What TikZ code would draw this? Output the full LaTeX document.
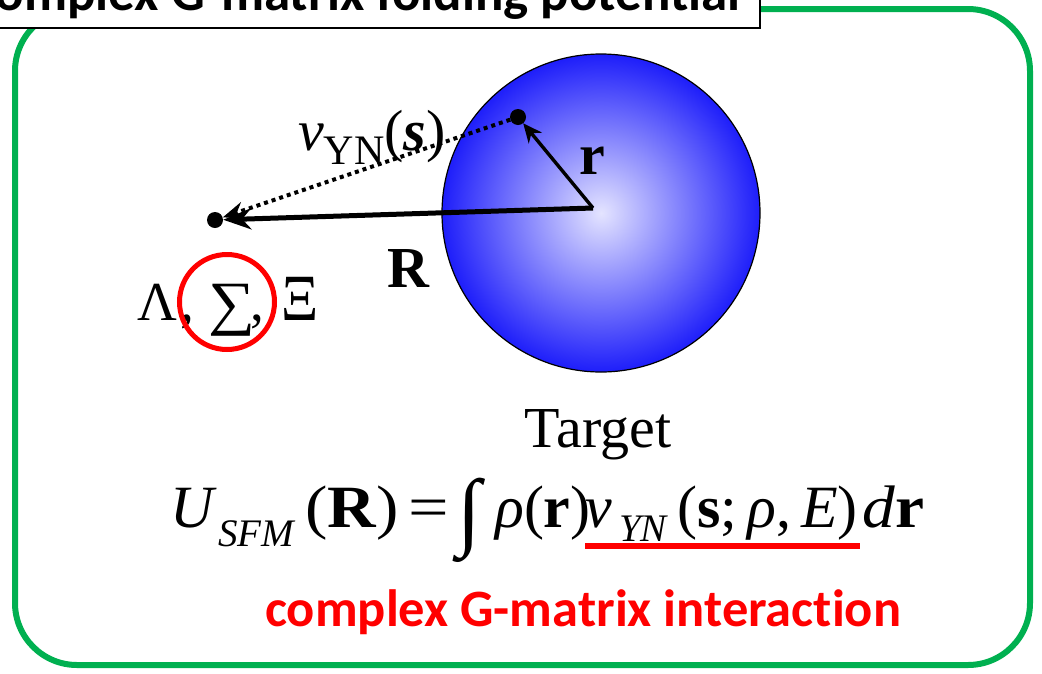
\documentclass[tikz,border=0pt]{standalone}
\usepackage{fontspec}
\setmainfont{Liberation Serif}
\newfontfamily\calib[Ligatures=NoCommon]{Carlito}
\usetikzlibrary{arrows.meta}
\definecolor{frameg}{RGB}{0,176,80}
\definecolor{sphin}{RGB}{228,228,255}
\definecolor{sphout}{RGB}{30,30,250}
\newcommand{\fsz}[1]{\fontsize{#1}{#1}\selectfont}
\newcommand{\wide}[1]{\scalebox{1.09}[1]{#1}}
\tikzset{
  dotnode/.style={circle,fill=black,inner sep=0pt,minimum size=16pt},
  lbl/.style={inner sep=0pt,font=\fsz{58}},
  eqp/.style={inner sep=0pt,anchor=base west,font=\fsz{60}},
  eqsub/.style={inner sep=0pt,anchor=base west,font=\fsz{39}},
  greek/.style={inner sep=0pt,anchor=base west,font=\fsz{55}},
}
\begin{document}
\begin{tikzpicture}[x=1pt,y=-1pt]
\useasboundingbox (0,0) rectangle (1042,673);
\begin{scope}
\clip (0,0) rectangle (1042,673);
% green frame
\draw[frameg,line width=6pt,rounded corners=62pt] (15,9) rectangle (1030,665);
% title box
\draw[black,fill=white,line width=2pt] (-30,-60) rectangle (760,28);
\node[anchor=base east,inner sep=0pt,font=\calib\bfseries\fsz{53}] (title) at (741,10) {Complex G-matrix folding potential};
\end{scope}
% sphere
\shade[inner color=sphin,outer color=sphout,draw=black,line width=1.2pt] (601,213) circle[radius=159];
\node[circle,inner sep=0pt,minimum size=318pt] (target) at (601,213) {};
% points
\coordinate (c) at (593,208);
\node[dotnode] (n) at (518,117) {};
\node[dotnode] (y) at (215,220) {};
% connectors
\draw[line width=4pt,dash pattern=on 4pt off 4pt,-{Stealth[length=22pt,width=17pt]}] (n) -- (y);
\draw[line width=5pt,-{Stealth[length=28pt,width=21pt]}] (c) -- (y);
\draw[line width=3.4pt,-{Stealth[length=19pt,width=17pt]}] (c) -- (n);
% labels
\node[lbl,anchor=base] (rl) at (592,174) {\textbf{r}};
\node[lbl,anchor=base] (Rl) at (409,287) {\textbf{R}};
\node[lbl,anchor=base west] (vl) at (298,150) {\textit{v}\raisebox{-14pt}{\fsz{42}YN}(\textbf{\textit{s}})};
\node[greek] (gL) at (137,320) {Λ};
\node[greek] (gC1) at (180,320) {,};
\node[inner sep=0pt,anchor=base west,font=\fsz{60}] (gS) at (208,323) {\scalebox{1.1}[1]{∑}};
\node[greek] (gC2) at (250,320) {,};
\node[greek] (gX) at (281,320) {\scalebox{1.05}[1.2]{Ξ}};
\node[draw=red,line width=5pt,circle,minimum size=95pt,inner sep=0pt] (circ) at (227,302) {};
\node[lbl,anchor=base] (tg) at (598,447) {Target};
% equation
\node[eqp] (eU) at (170,527) {\textit{U}};
\node[eqsub] (eS) at (218,546) {\textit{SFM}};
\node[eqp] (eR) at (305,527) {\scalebox{1.12}[1]{(\textbf{R})}};
\node[eqp] (eE) at (408,527) {\scalebox{1.2}[1]{=}};
\node[inner sep=0pt,anchor=base west,font=\fsz{86}] (eI) at (457,539) {∫};
\node[eqp] (eP) at (495,527) {\textit{ρ}(\textbf{r})};
\node[eqp] (eV) at (585,527) {\textit{v}};
\node[eqsub] (eY) at (619,541) {\textit{YN}};
\node[eqp] (eA) at (677,527) {(\textbf{s};\,\textit{ρ},\,\textit{E})};
\node[eqp] (eD) at (862,527) {\wide{\textit{d}\textbf{r}}};
\coordinate (u1) at (585,546);
\coordinate (u2) at (860,546);
\draw[red,line width=6pt] (u1) -- (u2);
\node[inner sep=0pt,anchor=base west,text=red,font=\calib\bfseries\fsz{52.5}] (cg) at (265,626) {complex G-matrix interaction};
\end{tikzpicture}
\end{document}
